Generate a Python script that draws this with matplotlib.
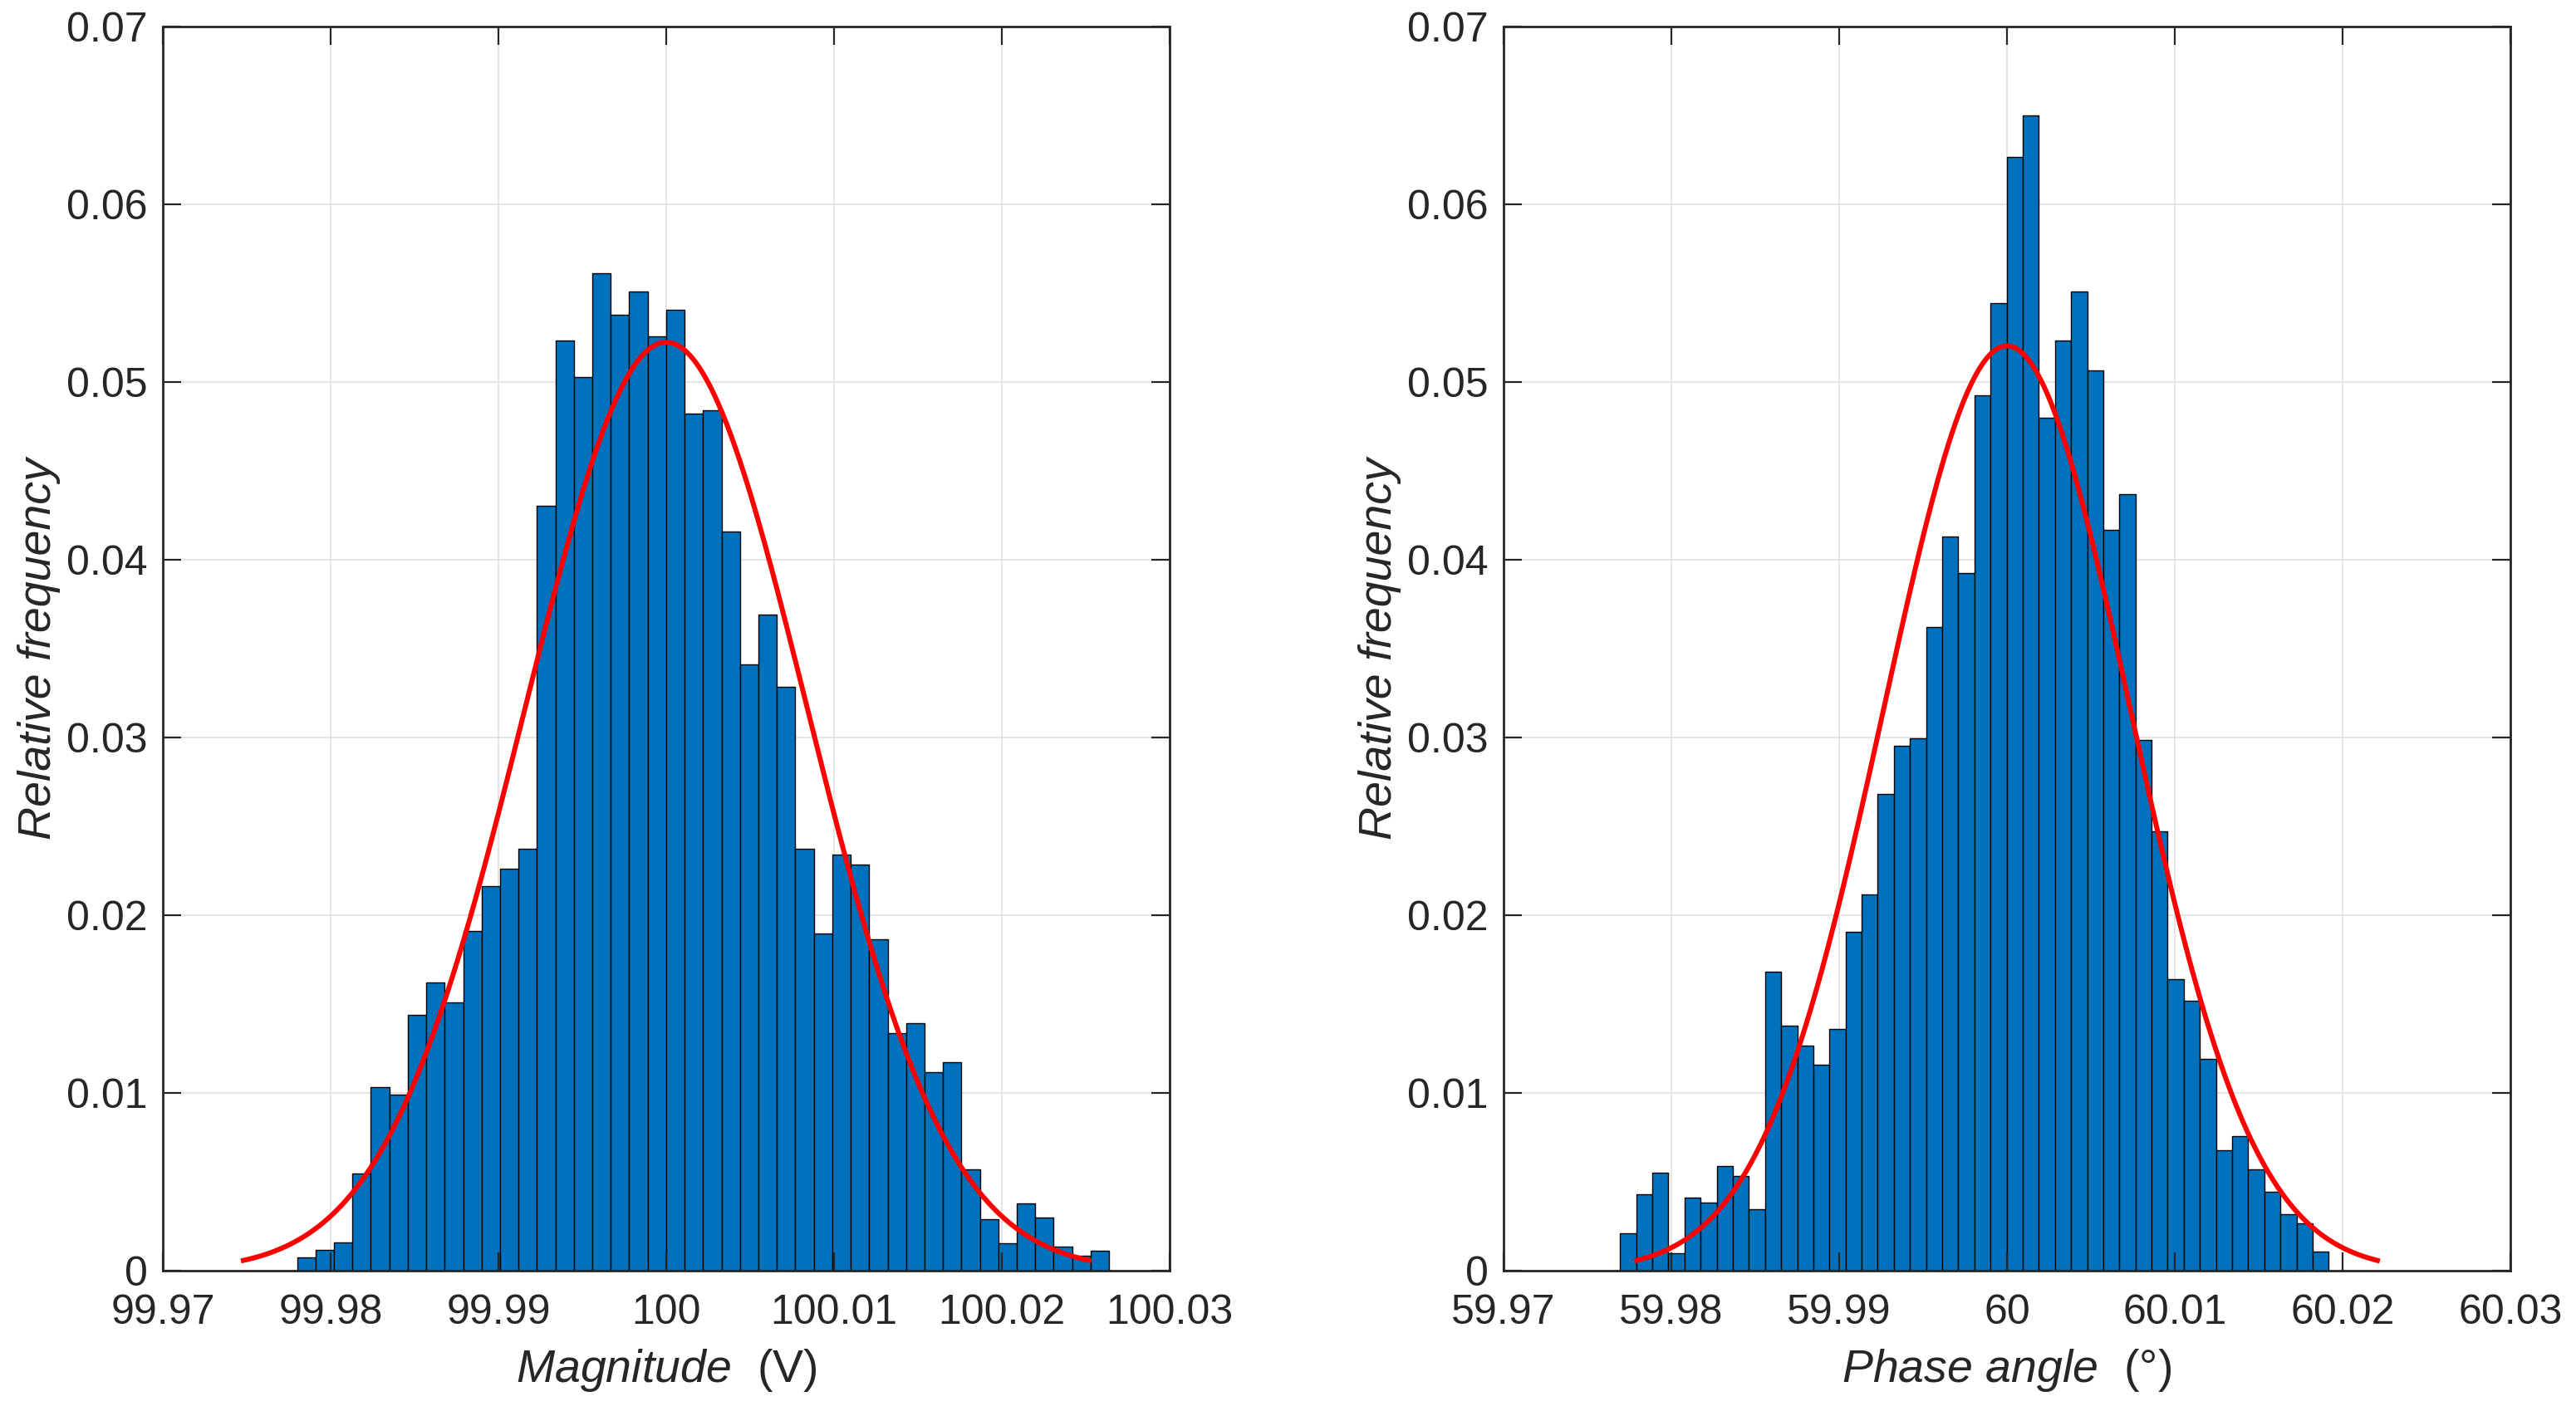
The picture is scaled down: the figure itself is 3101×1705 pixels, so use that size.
import numpy as np
import matplotlib
matplotlib.use("Agg")
import matplotlib.pyplot as plt

plt.rcParams['font.family'] = ['Liberation Sans', 'DejaVu Sans']
plt.rcParams['mathtext.fontset'] = 'custom'
plt.rcParams['mathtext.rm'] = 'Liberation Sans'
plt.rcParams['mathtext.it'] = 'Liberation Sans:italic'

# ---------------- data ----------------
mag_bin_start = 99.978
mag_bin_width = 0.0011
mag_freq = [0.00074, 0.00116, 0.00159, 0.00547, 0.01031, 0.00992, 0.01438, 0.01624, 0.01508, 0.01911,
            0.02163, 0.02264, 0.02376, 0.04302, 0.05233, 0.05027, 0.05612, 0.05380, 0.05508, 0.05256,
            0.05407, 0.04822, 0.04841, 0.04159, 0.03411, 0.03694, 0.03283, 0.02372, 0.01899, 0.02341,
            0.02287, 0.01864, 0.01337, 0.01395, 0.01118, 0.01172, 0.00569, 0.00290, 0.00154, 0.00377,
            0.00299, 0.00136, 0.00084, 0.00113]
mag_mu = 100.0
mag_sigma = 0.0084

ph_bin_start = 59.97694
ph_bin_width = 0.00096
ph_freq = [0.00212, 0.00428, 0.00551, 0.00097, 0.00410, 0.00384, 0.00587, 0.00534, 0.00344, 0.01681,
           0.01381, 0.01266, 0.01160, 0.01359, 0.01906, 0.02117, 0.02682, 0.02955, 0.02995, 0.03622,
           0.04133, 0.03926, 0.04927, 0.05443, 0.06268, 0.06498, 0.04799, 0.05232, 0.05509, 0.05068,
           0.04169, 0.04371, 0.02986, 0.02470, 0.01641, 0.01517, 0.01191, 0.00679, 0.00759, 0.00569,
           0.00446, 0.00318, 0.00265, 0.00110]
ph_mu = 60.0
ph_sigma = 0.00736

mag_xticks = [99.97, 99.98, 99.99, 100.0, 100.01, 100.02, 100.03]
mag_xticklabels = ['99.97', '99.98', '99.99', '100', '100.01', '100.02', '100.03']
ph_xticks = [59.97, 59.98, 59.99, 60.0, 60.01, 60.02, 60.03]
ph_xticklabels = ['59.97', '59.98', '59.99', '60', '60.01', '60.02', '60.03']
yticks = [0, 0.01, 0.02, 0.03, 0.04, 0.05, 0.06, 0.07]
yticklabels = ['0', '0.01', '0.02', '0.03', '0.04', '0.05', '0.06', '0.07']

BAR_COLOR = '#0072BD'
AX_COLOR = '#262626'
GRID_COLOR = '#e3e3e3'

fig = plt.figure(figsize=(31.01, 17.05), dpi=100)
ax1 = fig.add_axes([0.0632, 0.1026, 0.3908, 0.8786])
ax2 = fig.add_axes([0.5837, 0.1026, 0.3908, 0.8786])


def draw(ax, start, width, freq, mu, sigma, xticks, xticklabels, xlabel):
    freq = np.asarray(freq)
    edges = start + width * np.arange(len(freq) + 1)
    for xv in xticks:
        ax.axvline(xv, color=GRID_COLOR, lw=1.3, zorder=0)
    for yv in yticks:
        ax.axhline(yv, color=GRID_COLOR, lw=1.3, zorder=0)
    ax.bar(edges[:-1], freq, width=width, align='edge', color=BAR_COLOR,
           edgecolor='black', linewidth=1.0, zorder=1)
    xs = np.linspace(mu - 3 * sigma, mu + 3 * sigma, 400)
    ys = width * np.exp(-0.5 * ((xs - mu) / sigma) ** 2) / (sigma * np.sqrt(2 * np.pi))
    ax.plot(xs, ys, color='red', lw=4.3, zorder=3)
    ax.set_xlim(xticks[0], xticks[-1])
    ax.set_ylim(0, 0.07)
    ax.set_xticks(xticks)
    ax.set_xticklabels(xticklabels)
    ax.set_yticks(yticks)
    ax.set_yticklabels(yticklabels)
    ax.tick_params(direction='in', length=16, width=1.6, colors=AX_COLOR,
                   labelsize=36, top=True, right=True)
    ax.tick_params(axis='x', pad=20)
    ax.tick_params(axis='y', pad=13)
    for sp in ax.spines.values():
        sp.set_color(AX_COLOR)
        sp.set_linewidth(2.0)
        sp.set_zorder(4)
    ax.set_xlabel(xlabel, fontsize=40, color=AX_COLOR, labelpad=13)
    ax.set_ylabel('Relative frequency', fontsize=40, color=AX_COLOR,
                  fontstyle='italic', labelpad=5)


draw(ax1, mag_bin_start, mag_bin_width, mag_freq, mag_mu, mag_sigma,
     mag_xticks, mag_xticklabels, r'$\mathit{Magnitude}$  (V)')
draw(ax2, ph_bin_start, ph_bin_width, ph_freq, ph_mu, ph_sigma,
     ph_xticks, ph_xticklabels, r'$\mathit{Phase\ angle}$  (°)')

fig.savefig('out.png', dpi=100, facecolor='white')
